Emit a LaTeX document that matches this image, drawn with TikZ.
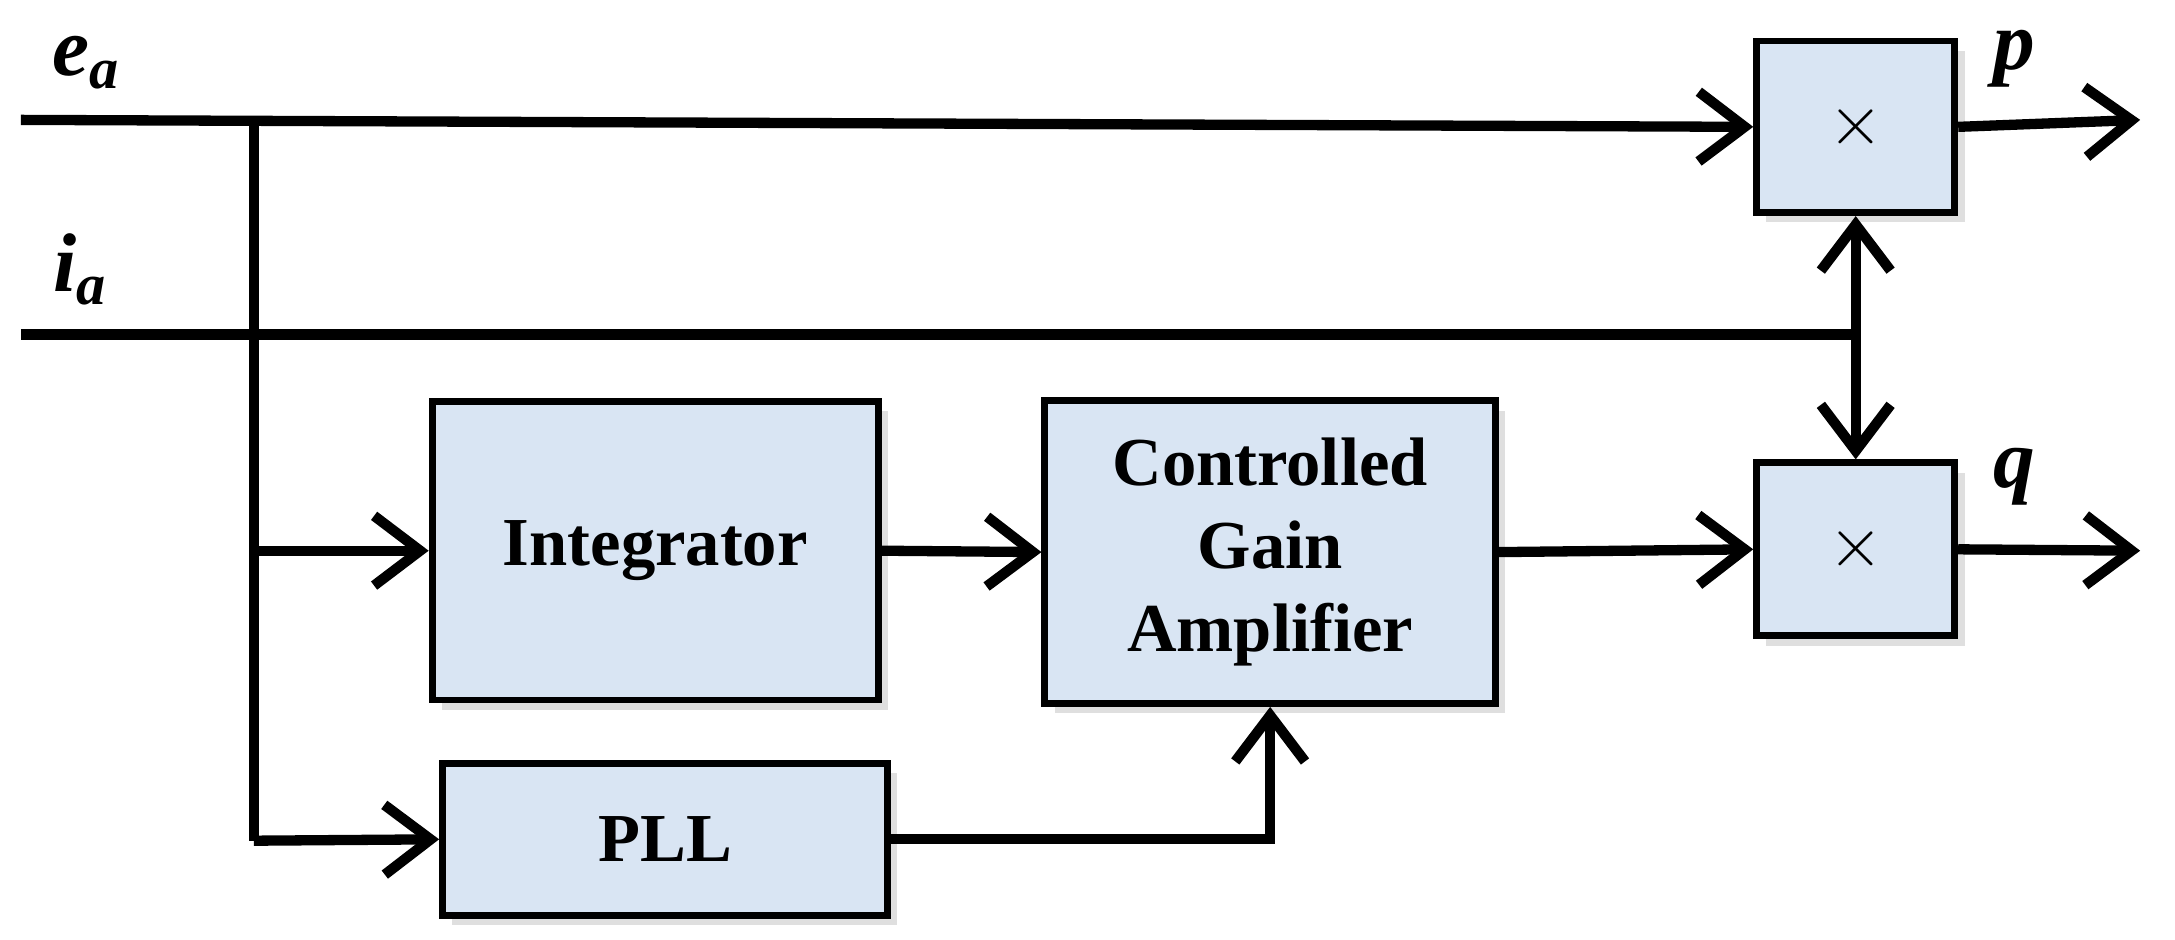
\documentclass[tikz,border=0pt]{standalone}
\usepackage{fontspec}
\setmainfont{Liberation Serif}
\usetikzlibrary{arrows.meta,shadows}
\definecolor{boxfill}{HTML}{D9E5F3}
\begin{document}
\begin{tikzpicture}[x=0.01cm,y=-0.01cm,
  line width=2.1pt,
  arr/.style={-{Straight Barb[length=0.33cm,width=0.5cm,line width=2.1pt]}},
  blk/.style={draw,line width=1.4pt,fill=boxfill,inner sep=0pt,
    font=\fontsize{14}{17}\selectfont\bfseries,align=center,
    drop shadow={shadow xshift=2pt,shadow yshift=-2pt,opacity=0.25}},
  lbl/.style={font=\fontsize{17}{20}\selectfont\bfseries\itshape}]
\useasboundingbox (0,0) rectangle (1560,674);
\node[blk,minimum width=1.42cm,minimum height=1.23cm] (m1) at (1331,91) {\textnormal{$\times$}};
\node[blk,minimum width=1.42cm,minimum height=1.24cm] (m2) at (1331,394) {\textnormal{$\times$}};
\node[blk,minimum width=3.2cm,minimum height=2.14cm] (int) at (470,395) {Integrator};
\node[blk,minimum width=3.23cm,minimum height=2.17cm] (cga) at (911,396) {Controlled\\Gain\\Amplifier};
\node[blk,minimum width=3.19cm,minimum height=1.09cm] (pll) at (477,602) {PLL};
\coordinate (ea) at (15,86);
\coordinate (ia) at (15,240);
\coordinate (t0) at (182,86);
\coordinate (t1) at (182,395);
\coordinate (t2) at (182,603);
\coordinate (v) at (1331,240);
\coordinate (p) at (1535,86);
\coordinate (q) at (1535,395);
\node[lbl] at (62,45) {e\textsubscript{a}};
\node[lbl] at (58,193) {i\textsubscript{a}};
\node[lbl] at (1445,42) {p};
\node[lbl] at (1445,342) {q};
\draw[arr] (ea) -- (m1.west);
\draw (ia) -- (v);
\draw[arr] (v) -- (m1.south);
\draw[arr] (v) -- (m2.north);
\draw[arr] (m1.east) -- (p);
\draw[arr] (m2.east) -- (q);
\draw (t0) -- (t2);
\draw[arr] (t1) -- (int.west);
\draw[arr] (t2) -- (pll.west);
\draw[arr] (int.east) -- (cga.west);
\draw[arr] (cga.east) -- (m2.west);
\draw[arr] (pll.east) -| (cga.south);
\end{tikzpicture}
\end{document}
